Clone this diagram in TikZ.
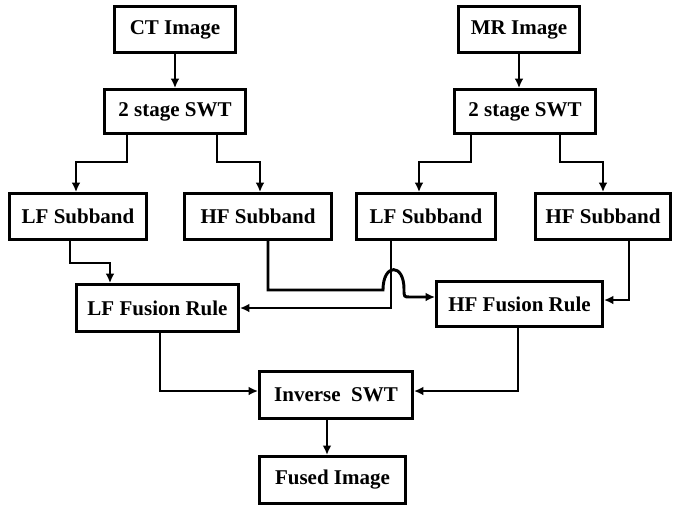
\documentclass[tikz,border=0pt]{standalone}
\usepackage{fontspec}
\setmainfont{Liberation Serif}
\usetikzlibrary{arrows.meta,calc}
\begin{document}
\begin{tikzpicture}[x=0.75pt,y=-0.75pt,
  blk/.style 2 args={draw,line width=2.2pt,fill=white,inner sep=0pt,
    minimum width={0.75pt*#1},minimum height={0.75pt*#2},
    font=\fontsize{15.75}{18}\selectfont\bfseries},
  arr/.style={line width=2.2pt,-{Latex[length=7pt,width=6.5pt]}}]
\useasboundingbox (0,0) rectangle (675,508);

% source images
\node[blk={121}{46}] (ct) at (175,29.5) {CT Image};
\node[blk={121}{46}] (mr) at (519,29.5) {MR Image};

% decomposition
\node[blk={141}{44}] (swta) at (175,111.5) {2 stage SWT};
\node[blk={141}{44}] (swtb) at (525,111.5) {2 stage SWT};

% subbands
\node[blk={137}{46}] (ctlf) at (78,216.5) {LF Subband};
\node[blk={147}{46}] (cthf) at (258,216.5) {HF Subband};
\node[blk={139}{46}] (mrlf) at (426,216.5) {LF Subband};
\node[blk={135}{46}] (mrhf) at (603,216.5) {HF Subband};

% fusion rules
\node[blk={162}{47}] (lff) at (157.5,308) {LF Fusion Rule};
\node[blk={166}{45}] (hff) at (519.5,304) {HF Fusion Rule};

% reconstruction
\node[blk={153}{47}] (inv) at (336,395) {Inverse~~SWT};
\node[blk={146}{47}] (fused) at (332.5,480) {Fused Image};

% image -> SWT
\draw[arr] (ct.south) -- (swta.north);
\draw[arr] (mr.south) -- (mr.south |- swtb.north);

% SWT -> subbands
\draw[arr] ($(swta.south)+(-48,0)$) -- ++(0,27) -| ($(ctlf.north)+(-2,0)$);
\draw[arr] ($(swta.south)+(42,0)$) -- ++(0,27) -| ($(cthf.north)+(2,0)$);
\draw[arr] ($(swtb.south)+(-54,0)$) -- ++(0,27) -| ($(mrlf.north)+(-7,0)$);
\draw[arr] ($(swtb.south)+(35,0)$) -- ++(0,27) -| (mrhf.north);

% subbands -> fusion rules
\draw[arr] ($(ctlf.south)+(-8,0)$) -- ++(0,22) -| ($(lff.north)+(-47.5,0)$);
\coordinate (hopL) at (383,290);
\coordinate (hopR) at (410,297);
\draw[arr] ($(cthf.south)+(10,0)$) |- (hopL)
  .. controls (383,263) and (404,263) .. (404,289)
  .. controls (404,297) .. (hopR) -- (hopR -| hff.west);
\draw[arr] ($(mrlf.south)+(-35,0)$) |- (lff.east);
\draw[arr] ($(mrhf.south)+(26,0)$) |- ($(hff.east)+(0,-4)$);

% fusion rules -> inverse transform
\draw[arr] ($(lff.south)+(2.5,0)$) |- ($(inv.west)+(0,-4)$);
\draw[arr] ($(hff.south)+(-1.5,0)$) |- ($(inv.east)+(0,-4)$);

% inverse transform -> fused image
\draw[arr] ($(inv.south)+(-9,0)$) -- ++(0,35);
\end{tikzpicture}
\end{document}
